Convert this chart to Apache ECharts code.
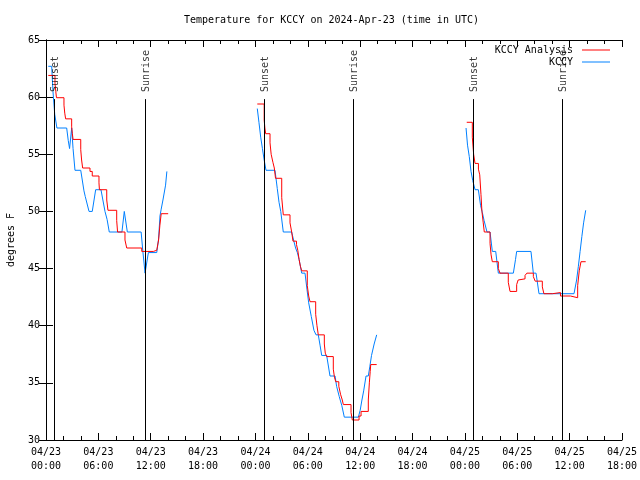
<!DOCTYPE html>
<html>
<head>
<meta charset="utf-8">
<script src="https://cdn.jsdelivr.net/npm/echarts@6/dist/echarts.min.js"></script>
<style>html,body{margin:0;padding:0;background:#fff}#c{width:640px;height:480px}</style>
</head>
<body>
<div id="c"></div>
<script>
// hours since 2024-04-23 00:00 UTC
const xTickLabels = ['04/23\n00:00','04/23\n06:00','04/23\n12:00','04/23\n18:00',
  '04/24\n00:00','04/24\n06:00','04/24\n12:00','04/24\n18:00',
  '04/25\n00:00','04/25\n06:00','04/25\n12:00','04/25\n18:00'];
const xMin = 0, xMax = 66, xStep = 6;
const yMin = 30, yMax = 65, yStep = 5;

const eventHours = [0.94, 11.38, 25.01, 35.21, 48.96, 59.16];
const eventNames = ['Sunset','Sunrise','Sunset','Sunrise','Sunset','Sunrise'];
const eventLineTop = 59.83;
const eventLabelBase = 60.45;

const analysisSeg1 = [[0.26,61.9],[1.03,61.2],[1.12,60.5],[1.2,59.95],[2.06,59.3],[2.15,58.6],[2.25,58.1],[2.94,57.4],[3.02,56.8],[3.1,56.3],[3.98,55.4],[4.08,54.5],[4.2,53.8],[5.04,53.5],[5.3,53.1],[6.07,52.5],[6.12,51.9],[6.96,51.0],[7.1,50.1],[8.1,49.2],[8.2,48.2],[9.05,47.5],[9.25,46.8],[10.97,46.5],[12.3,46.6],[12.69,46.6],[12.9,47.5],[13.05,48.8],[13.2,49.8],[14.0,49.8]];
const analysisSeg2 = [[24.21,59.4],[25.0,58.0],[25.08,57.3],[25.17,56.8],[25.67,56.0],[25.8,55.0],[26.0,54.3],[26.16,53.8],[26.3,52.9],[27.01,51.2],[27.19,49.7],[27.96,49.0],[28.15,48.2],[28.3,47.4],[28.7,47.1],[28.85,46.6],[29.0,45.8],[29.15,45.2],[29.3,44.8],[29.94,43.5],[30.1,42.6],[30.25,42.1],[30.9,41.0],[31.05,40.0],[31.2,39.2],[31.89,38.4],[32.0,37.6],[32.16,37.3],[32.92,36.2],[33.05,35.5],[33.2,35.1],[33.55,34.7],[33.75,34.0],[33.95,33.5],[34.07,33.1],[34.95,32.4],[35.1,31.75],[35.87,32.1],[36.1,32.5],[36.93,33.5],[37.05,35.0],[37.15,36.0],[37.21,36.6],[37.89,36.6]];
const analysisSeg3 = [[48.21,57.8],[48.85,56.5],[49.0,55.0],[49.16,54.2],[49.55,53.7],[49.7,53.2],[49.84,51.5],[49.95,50.0],[50.1,49.0],[50.22,48.2],[50.88,47.2],[51.0,46.2],[51.14,45.6],[51.83,45.0],[52.02,44.6],[52.97,43.8],[53.17,43.0],[53.93,43.6],[54.1,44.0],[54.31,44.1],[54.89,44.4],[55.1,44.6],[55.84,44.3],[56.05,43.9],[56.87,43.4],[57.05,42.8],[58.02,42.9],[58.95,42.6],[60.1,42.45],[60.92,43.5],[61.1,44.8],[61.3,45.6],[61.84,45.6]];

const obsSeg1 = [[0.26,62.7],[0.65,62.7],[0.8,60.5],[1.0,58.5],[1.25,57.3],[2.37,57.3],[2.55,56.2],[2.7,55.5],[2.94,57.3],[3.1,55.5],[3.32,53.6],[3.98,53.6],[4.35,51.8],[4.5,51.3],[4.93,50.0],[5.3,50.0],[5.69,51.9],[6.3,51.9],[6.76,50.0],[7.0,49.3],[7.25,48.2],[8.7,48.2],[8.97,50.0],[9.32,48.2],[10.9,48.2],[11.1,46.5],[11.35,44.6],[11.73,46.4],[12.69,46.4],[12.9,47.6],[13.06,49.6],[13.2,50.2],[13.4,51.0],[13.7,52.3],[13.85,53.5]];
const obsSeg2 = [[24.21,59.0],[24.4,57.8],[24.6,56.5],[24.8,55.5],[25.0,54.5],[25.21,53.6],[26.24,53.6],[26.5,52.0],[26.7,50.8],[26.9,50.0],[27.19,48.2],[28.15,48.2],[28.4,47.4],[28.6,46.8],[28.8,46.4],[29.0,45.8],[29.3,44.6],[29.68,44.6],[29.9,43.2],[30.1,42.0],[30.4,40.8],[30.7,39.6],[30.94,39.2],[31.2,39.2],[31.4,38.3],[31.59,37.4],[32.16,37.4],[32.54,35.6],[33.12,35.6],[33.3,34.7],[33.6,33.8],[33.9,33.0],[34.18,32.0],[35.79,32.0],[36.0,32.6],[36.2,33.5],[36.4,34.3],[36.67,35.6],[36.93,35.6],[37.1,36.4],[37.3,37.4],[37.6,38.4],[37.89,39.2]];
const obsSeg3 = [[48.13,57.3],[48.3,55.8],[48.5,54.8],[48.7,53.5],[48.9,52.7],[49.16,51.9],[49.54,51.9],[49.8,50.5],[50.0,49.9],[50.2,49.2],[50.53,48.2],[50.88,48.2],[51.14,46.5],[51.53,46.5],[51.83,44.6],[53.55,44.6],[53.8,45.8],[53.93,46.5],[55.57,46.5],[55.84,44.6],[56.15,44.6],[56.49,42.8],[60.5,42.8],[60.8,44.0],[61.0,45.2],[61.2,46.5],[61.4,47.8],[61.6,49.0],[61.84,50.1]];

const FONT = 'DejaVu Sans Mono';
const txt = {fontFamily: FONT, fontSize: 10, color: '#000'};
const RED = '#ff0000', BLUE = '#0080ff';

const chart = echarts.init(document.getElementById('c'), null, {renderer: 'canvas'});

const tickCommon = {
  axisLine: {show: true, lineStyle: {color: '#000', width: 1}},
  axisTick: {show: true, inside: true, length: 7, lineStyle: {color: '#000'}},
  splitLine: {show: false}
};

function lineSeries(name, color, data, step, z) {
  const s = {
    name: name, type: 'line', showSymbol: false, symbol: 'none',
    color: color, lineStyle: {width: 1, color: color},
    data: data, z: z
  };
  if (step) s.step = step;
  return s;
}

chart.setOption({
  animation: false,
  backgroundColor: '#fff',
  title: {
    text: 'Temperature for KCCY on 2024-Apr-23 (time in UTC)',
    left: 184, top: 15, padding: 0,
    textStyle: Object.assign({fontWeight: 'normal'}, txt)
  },
  legend: {
    orient: 'vertical', right: 30, top: 44, padding: 0,
    align: 'right', itemWidth: 28, itemHeight: 1, itemGap: 0,
    icon: 'rect',
    textStyle: Object.assign({lineHeight: 12, padding: [0, 4, 0, 0]}, txt),
    data: ['KCCY Analysis', 'KCCY']
  },
  grid: {left: 46, right: 18, top: 40, bottom: 40, containLabel: false, outerBoundsMode: 'none'},
  xAxis: [
    Object.assign({
      type: 'value', min: xMin, max: xMax, interval: xStep, position: 'bottom',
      minorTick: {show: true, splitNumber: 3, length: 4, lineStyle: {color: '#000'}},
      axisLabel: Object.assign({
        showMinLabel: true, showMaxLabel: true, margin: 5, lineHeight: 14,
        formatter: v => xTickLabels[Math.round((v - xMin) / xStep)] || ''
      }, txt)
    }, tickCommon),
    Object.assign({
      type: 'value', min: xMin, max: xMax, interval: xStep, position: 'top',
      minorTick: {show: true, splitNumber: 3, length: 4, lineStyle: {color: '#000'}},
      axisLabel: {show: false}
    }, tickCommon)
  ],
  yAxis: [
    Object.assign({
      type: 'value', min: yMin, max: yMax, interval: yStep, position: 'left',
      name: 'degrees F', nameLocation: 'middle', nameGap: 30, nameRotate: 90,
      nameTextStyle: txt,
      axisLabel: Object.assign({margin: 6}, txt)
    }, tickCommon),
    Object.assign({
      type: 'value', min: yMin, max: yMax, interval: yStep, position: 'right',
      axisLabel: {show: false}
    }, tickCommon)
  ],
  series: [
    lineSeries('KCCY Analysis', RED, analysisSeg1, 'end', 3),
    lineSeries('KCCY Analysis', RED, analysisSeg2, 'end', 3),
    lineSeries('KCCY Analysis', RED, analysisSeg3, 'end', 3),
    lineSeries('KCCY', BLUE, obsSeg1, null, 2),
    lineSeries('KCCY', BLUE, obsSeg2, null, 2),
    lineSeries('KCCY', BLUE, obsSeg3, null, 2),
    {
      name: 'events', type: 'scatter', symbolSize: 0, silent: true,
      data: eventHours.map((h, i) => [h, eventLabelBase, eventNames[i]]),
      label: Object.assign({
        show: true, position: [1, 0], rotate: 90, align: 'left', verticalAlign: 'middle',
        formatter: p => p.data[2]
      }, txt),
      markLine: {
        silent: true, symbol: 'none',
        lineStyle: {color: '#000', width: 1, type: 'solid'},
        label: {show: false},
        data: eventHours.map(h => [{coord: [h, eventLineTop]}, {coord: [h, yMin]}])
      },
      z: 4
    }
  ]
});
</script>
</body>
</html>
